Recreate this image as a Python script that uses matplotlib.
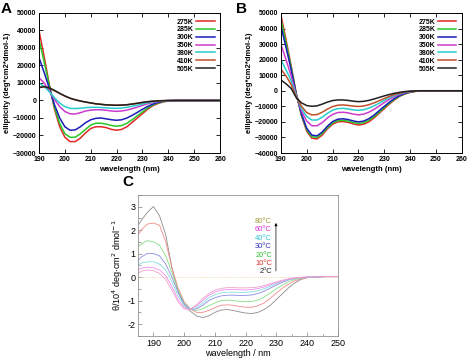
import numpy as np
import matplotlib
matplotlib.use("Agg")
import matplotlib.pyplot as plt
from matplotlib.ticker import MultipleLocator

plt.rcParams['font.family'] = ['Liberation Sans', 'DejaVu Sans']

# === DATA: panels A and B (ellipticity vs wavelength) ===
wl_ab = [190, 192, 194, 196, 198, 200, 202, 204, 206, 208, 210, 212, 214, 216, 218,
         220, 222, 224, 226, 228, 230, 232, 234, 236, 238, 240, 242, 244, 246, 250, 255, 260]
temps_ab = ['275K', '285K', '300K', '350K', '380K', '410K', '505K']
colors_ab = ['#e02828', '#28c828', '#1c1cb8', '#cc3ccc', '#28cccc', '#c0502a', '#202020']

a_275 = [40000, 25000, 9000, -5000, -15000, -21000, -23500, -23500, -21500, -18500, -16000, -15000, -15000, -15500, -16500,
         -17000, -16500, -15000, -12500, -10000, -7500, -5000, -3000, -1700, -800, -300, -100, 0, 0, 0, 0, 0]
a_285 = [35000, 22000, 8500, -4000, -13000, -19000, -21000, -21000, -19000, -16500, -14000, -13000, -13000, -13500, -14300,
         -14700, -14300, -13000, -11000, -8700, -6500, -4300, -2600, -1400, -700, -250, -80, 0, 0, 0, 0, 0]
a_300 = [24500, 16000, 7000, -2500, -10000, -15000, -17000, -16800, -15000, -12700, -11000, -10200, -10000, -10500, -11000,
         -11300, -11000, -10000, -8500, -6800, -5000, -3400, -2100, -1100, -500, -200, -50, 0, 0, 0, 0, 0]
a_350 = [13000, 10000, 5500, 500, -3500, -6300, -7600, -7700, -7000, -6000, -5500, -5300, -5300, -5600, -6000,
         -6200, -6000, -5500, -4700, -3800, -2800, -1900, -1200, -600, -300, -100, 0, 0, 0, 0, 0, 0]
a_380 = [10000, 8000, 5000, 1500, -1500, -3500, -4500, -4600, -4400, -4100, -3900, -3900, -4000, -4200, -4400,
         -4500, -4300, -3900, -3300, -2700, -2000, -1300, -800, -400, -200, -50, 0, 0, 0, 0, 0, 0]
a_410 = [7500, 8000, 7000, 5500, 4000, 2500, 1300, 400, -300, -900, -1400, -1900, -2200, -2500, -2600,
         -2700, -2600, -2400, -2000, -1600, -1100, -700, -400, -200, -100, 0, 0, 0, 0, 0, 0, 0]
a_505 = [7300, 7900, 7200, 5800, 4100, 2600, 1300, 400, -300, -900, -1400, -1900, -2200, -2500, -2650,
         -2750, -2650, -2450, -2050, -1600, -1100, -700, -400, -200, -100, 0, 0, 0, 0, 0, 0, 0]

b_275 = [49000, 33000, 16000, -2000, -16000, -26000, -30500, -31000, -28500, -24500, -21500, -20000, -19800, -20300, -21300,
         -22000, -21500, -20000, -17500, -14500, -11500, -8500, -5800, -3500, -2000, -1000, -400, -100, 0, 0, 0, 0]
b_285 = [46000, 31000, 15000, -2200, -15500, -25000, -29500, -30000, -27500, -23700, -20700, -19200, -19000, -19500, -20400,
         -21000, -20500, -19000, -16700, -13800, -10800, -8000, -5400, -3300, -1900, -900, -350, -100, 0, 0, 0, 0]
b_300 = [42000, 28000, 13500, -2500, -15000, -24000, -28500, -29000, -26500, -22800, -19800, -18300, -18000, -18500, -19400,
         -20000, -19500, -18000, -15700, -12800, -10000, -7300, -4900, -3000, -1700, -800, -300, -100, 0, 0, 0, 0]
b_350 = [30000, 20000, 9500, -3000, -13000, -19500, -22500, -22500, -20500, -17500, -15200, -14000, -13800, -14200, -15000,
         -15500, -15000, -13800, -12000, -9800, -7600, -5500, -3700, -2200, -1200, -600, -200, 0, 0, 0, 0, 0]
b_380 = [20000, 13500, 6500, -3500, -11500, -16500, -18800, -18800, -17000, -14500, -12500, -11500, -11300, -11700, -12300,
         -12600, -12200, -11200, -9700, -8000, -6200, -4500, -3000, -1800, -1000, -500, -200, 0, 0, 0, 0, 0]
b_410 = [14000, 9500, 4000, -4000, -10000, -14000, -15500, -15300, -13800, -11800, -10200, -9300, -9100, -9400, -9900,
         -10100, -9800, -9000, -7800, -6400, -5000, -3600, -2400, -1500, -800, -400, -150, 0, 0, 0, 0, 0]
b_505 = [7000, 4500, 1500, -4500, -7800, -9500, -10000, -9700, -8600, -7300, -6300, -5900, -5900, -6200, -6700,
         -7000, -6800, -6200, -5300, -4300, -3300, -2400, -1600, -1000, -500, -250, -100, 0, 0, 0, 0, 0]

panel_a = [a_275, a_285, a_300, a_350, a_380, a_410, a_505]
panel_b = [b_275, b_285, b_300, b_350, b_380, b_410, b_505]

# === DATA: panel C (theta / 10^4) ===
wl_c = [185, 186, 188, 190, 192, 194, 196, 198, 200, 202, 204, 206, 208, 210, 212, 214, 216, 218,
        220, 222, 224, 226, 228, 230, 232, 234, 236, 238, 240, 242, 244, 246, 248, 250]
c_2 = [2.2, 2.4, 2.75, 3.0, 2.6, 1.8, 0.4, -0.6, -1.2, -1.45, -1.65, -1.72, -1.65, -1.5, -1.4, -1.38, -1.42, -1.48,
       -1.53, -1.55, -1.5, -1.38, -1.2, -0.95, -0.7, -0.45, -0.25, -0.1, -0.03, 0.0, 0.01, 0.02, 0.02, 0.02]
c_10 = [1.8, 2.0, 2.25, 2.3, 2.2, 1.5, 0.4, -0.45, -1.05, -1.35, -1.5, -1.5, -1.42, -1.3, -1.2, -1.18, -1.2, -1.25,
        -1.28, -1.28, -1.22, -1.1, -0.9, -0.68, -0.47, -0.3, -0.16, -0.07, -0.02, 0.0, 0.01, 0.02, 0.02, 0.02]
c_20 = [1.3, 1.4, 1.55, 1.5, 1.35, 0.9, 0.2, -0.55, -1.1, -1.38, -1.42, -1.35, -1.22, -1.1, -1.0, -0.98, -1.0, -1.03,
        -1.05, -1.04, -0.98, -0.85, -0.68, -0.5, -0.34, -0.2, -0.1, -0.04, -0.01, 0.0, 0.01, 0.02, 0.02, 0.02]
c_30 = [0.7, 0.85, 1.0, 1.0, 0.9, 0.55, 0.0, -0.65, -1.15, -1.38, -1.35, -1.2, -1.0, -0.88, -0.8, -0.77, -0.77, -0.78,
        -0.78, -0.76, -0.7, -0.6, -0.47, -0.34, -0.22, -0.12, -0.06, -0.02, 0.0, 0.0, 0.01, 0.02, 0.02, 0.02]
c_40 = [0.5, 0.6, 0.65, 0.65, 0.55, 0.3, -0.2, -0.8, -1.2, -1.38, -1.3, -1.1, -0.88, -0.75, -0.67, -0.64, -0.64, -0.65,
        -0.65, -0.63, -0.58, -0.5, -0.39, -0.28, -0.18, -0.1, -0.05, -0.02, 0.0, 0.0, 0.01, 0.02, 0.02, 0.02]
c_60 = [0.3, 0.38, 0.42, 0.4, 0.3, 0.05, -0.4, -0.95, -1.3, -1.38, -1.22, -1.0, -0.78, -0.64, -0.56, -0.53, -0.53, -0.54,
        -0.55, -0.53, -0.49, -0.42, -0.33, -0.24, -0.16, -0.09, -0.04, -0.01, 0.0, 0.0, 0.01, 0.02, 0.02, 0.02]
c_80 = [0.15, 0.25, 0.3, 0.28, 0.15, -0.1, -0.55, -1.05, -1.35, -1.38, -1.18, -0.92, -0.7, -0.56, -0.48, -0.45, -0.45, -0.46,
        -0.46, -0.45, -0.42, -0.36, -0.28, -0.2, -0.13, -0.07, -0.03, -0.01, 0.0, 0.0, 0.01, 0.02, 0.02, 0.02]

panel_c = [c_2, c_10, c_20, c_30, c_40, c_60, c_80]
labels_c = ['2⁰C', '10⁰C', '20⁰C', '30⁰C', '40⁰C', '60⁰C', '80⁰C']
line_colors_c = ['#8c8c8c', '#f08a8a', '#86dc86', '#8a8ae6', '#86dede', '#f08cf0', '#f0a0c8']
text_colors_c = ['#202020', '#e03030', '#30c030', '#3030c0', '#30c8d8', '#e030e0', '#a09830']

# === FIGURE ===
fig = plt.figure(figsize=(4.68, 3.6), dpi=100)


def gnuplot_panel(rect, series, ylim, yticks, letter, lx):
    ax = fig.add_axes(rect)
    for vals, c, t in zip(series, colors_ab, temps_ab):
        ax.plot(wl_ab, vals, color=c, lw=1.1, label=t)
    ax.set_xlim(190, 260)
    ax.set_ylim(*ylim)
    ax.set_xticks(range(190, 261, 10))
    ax.set_yticks(yticks)
    ax.tick_params(direction='in', length=3, width=0.6, top=True, right=True,
                   labelsize=5, pad=2)
    for lab in ax.get_xticklabels() + ax.get_yticklabels():
        lab.set_fontweight('bold')
    for s in ax.spines.values():
        s.set_linewidth(0.7)
    ax.set_xlabel('wavelength (nm)', fontsize=5.5, fontweight='bold', labelpad=2)
    ax.set_ylabel('ellipticity (deg*cm2*dmol-1)', fontsize=5.5, fontweight='bold', labelpad=1)
    ax.legend(loc='upper right', frameon=False, markerfirst=False,
              handlelength=2.6, handletextpad=0.4, labelspacing=0.12,
              borderaxespad=0.4, prop={'weight': 'bold', 'size': 5})
    fig.text(lx, 0.995, letter, fontsize=11, fontweight='bold', va='top', ha='left')
    return ax


gnuplot_panel([0.0833, 0.575, 0.387, 0.389], panel_a, (-30000, 50000),
              range(-30000, 50001, 10000), 'A', 0.002)
gnuplot_panel([0.600, 0.575, 0.387, 0.389], panel_b, (-40000, 50000),
              range(-40000, 50001, 10000), 'B', 0.504)

# === PANEL C ===
axc = fig.add_axes([0.295, 0.067, 0.427, 0.392])
axc.axhline(0, color='#e8c890', lw=0.6, ls=':')
for vals, c in zip(panel_c, line_colors_c):
    axc.plot(wl_c, vals, color=c, lw=0.6)
axc.set_xlim(185, 250)
axc.set_ylim(-2.5, 3.5)
axc.set_xticks(range(190, 251, 10))
axc.set_yticks(range(-2, 4))
axc.set_yticklabels(['-2', '-1', '0', '1', '2', '3'])
axc.xaxis.set_minor_locator(MultipleLocator(5))
axc.yaxis.set_minor_locator(MultipleLocator(0.5))
axc.tick_params(which='both', direction='in', width=0.5, color='#808080', labelsize=6.5, pad=2)
axc.tick_params(which='major', length=3)
axc.tick_params(which='minor', length=1.8)
for s in axc.spines.values():
    s.set_linewidth(0.6)
    s.set_color('#909090')
axc.set_xlabel('wavelength / nm', fontsize=6.5, labelpad=1)
axc.set_ylabel('θ/10$^4$ deg·cm$^2$ dmol$^{-1}$', fontsize=6.5, labelpad=2)

for i, (lab, tc) in enumerate(zip(labels_c, text_colors_c)):
    axc.text(0.67, 0.454 + i * 0.0593, lab, color=tc, fontsize=5.4,
             ha='right', va='center', transform=axc.transAxes)
axc.annotate('', xy=(0.69, 0.82), xytext=(0.69, 0.44), xycoords='axes fraction',
             arrowprops=dict(arrowstyle='-|>', color='black', lw=0.5, mutation_scale=4))
fig.text(0.261, 0.515, 'C', fontsize=11, fontweight='bold', va='top', ha='left')

plt.savefig('out.png', dpi=100)
